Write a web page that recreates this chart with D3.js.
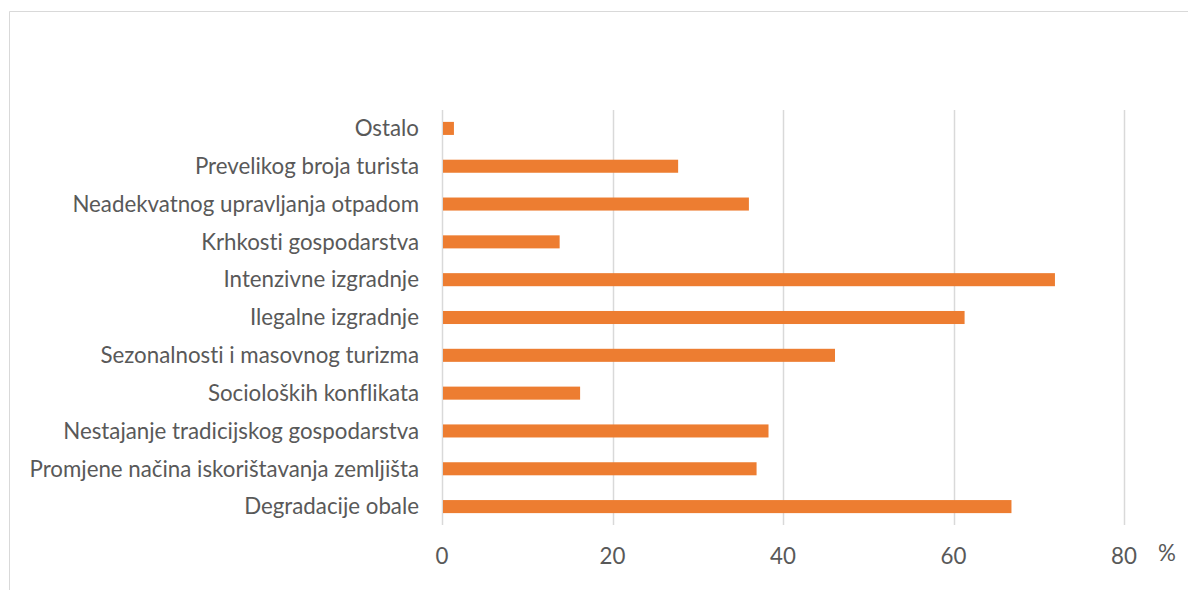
<!DOCTYPE html>
<html><head><meta charset="utf-8">
<script src="https://cdn.jsdelivr.net/npm/d3@7"></script>
<style>body{margin:0;background:#fff}svg{display:block}text{font-variant-ligatures:none}</style>
</head><body>
<svg id="c" width="1188" height="590"></svg>
<script>
const categories = ["Ostalo","Prevelikog broja turista","Neadekvatnog upravljanja otpadom","Krhkosti gospodarstva","Intenzivne izgradnje","Ilegalne izgradnje","Sezonalnosti i masovnog turizma","Socioloških konflikata","Nestajanje tradicijskog gospodarstva","Promjene načina iskorištavanja zemljišta","Degradacije obale"];
const values = [1.4, 27.7, 36.0, 13.8, 71.9, 61.3, 46.1, 16.2, 38.3, 36.9, 66.8];
const xTicks = [0, 20, 40, 60, 80];
const unitLabel = "%";

const svg = d3.select("#c");
const font = "Lato, 'Liberation Sans', sans-serif";
const fs = 22.3;
svg.append("path").attr("d","M9.5,590 V11.5 H1188").attr("fill","none").attr("stroke","#d9d9d9").attr("stroke-width",1);

const x = d3.scaleLinear().domain([0,80]).range([442,1124]);
const y = d3.scaleBand().domain(categories).range([109.5,525.5]).paddingInner(0.655).paddingOuter(0.3275);

svg.append("g").selectAll("line").data(xTicks).join("line")
  .attr("x1",d=>Math.round(x(d))+0.5).attr("x2",d=>Math.round(x(d))+0.5)
  .attr("y1",110).attr("y2",525).attr("stroke","#d9d9d9").attr("stroke-width",1.5);

svg.append("g").selectAll("rect").data(values).join("rect")
  .attr("x",x(0)+1).attr("y",(d,i)=>y(categories[i]))
  .attr("width",d=>x(d)-x(0)-1).attr("height",y.bandwidth())
  .attr("fill","#ED7D31");

svg.append("g").selectAll("text").data(categories).join("text")
  .attr("x",419).attr("y",d=>y(d)+y.bandwidth()/2).attr("dy","0.35em")
  .attr("text-anchor","end").attr("font-family",font).attr("font-size",fs)
  .attr("fill","#595959").text(d=>d);

svg.append("g").selectAll("text").data(xTicks).join("text")
  .attr("x",d=>x(d)).attr("y",556).attr("dy","0.35em")
  .attr("text-anchor","middle").attr("font-family",font).attr("font-size",fs)
  .attr("fill","#595959").text(d=>d);

svg.append("text").attr("x",1167).attr("y",553).attr("dy","0.35em")
  .attr("text-anchor","middle").attr("font-family",font).attr("font-size",fs)
  .attr("fill","#595959").text(unitLabel);
</script>
</body></html>
